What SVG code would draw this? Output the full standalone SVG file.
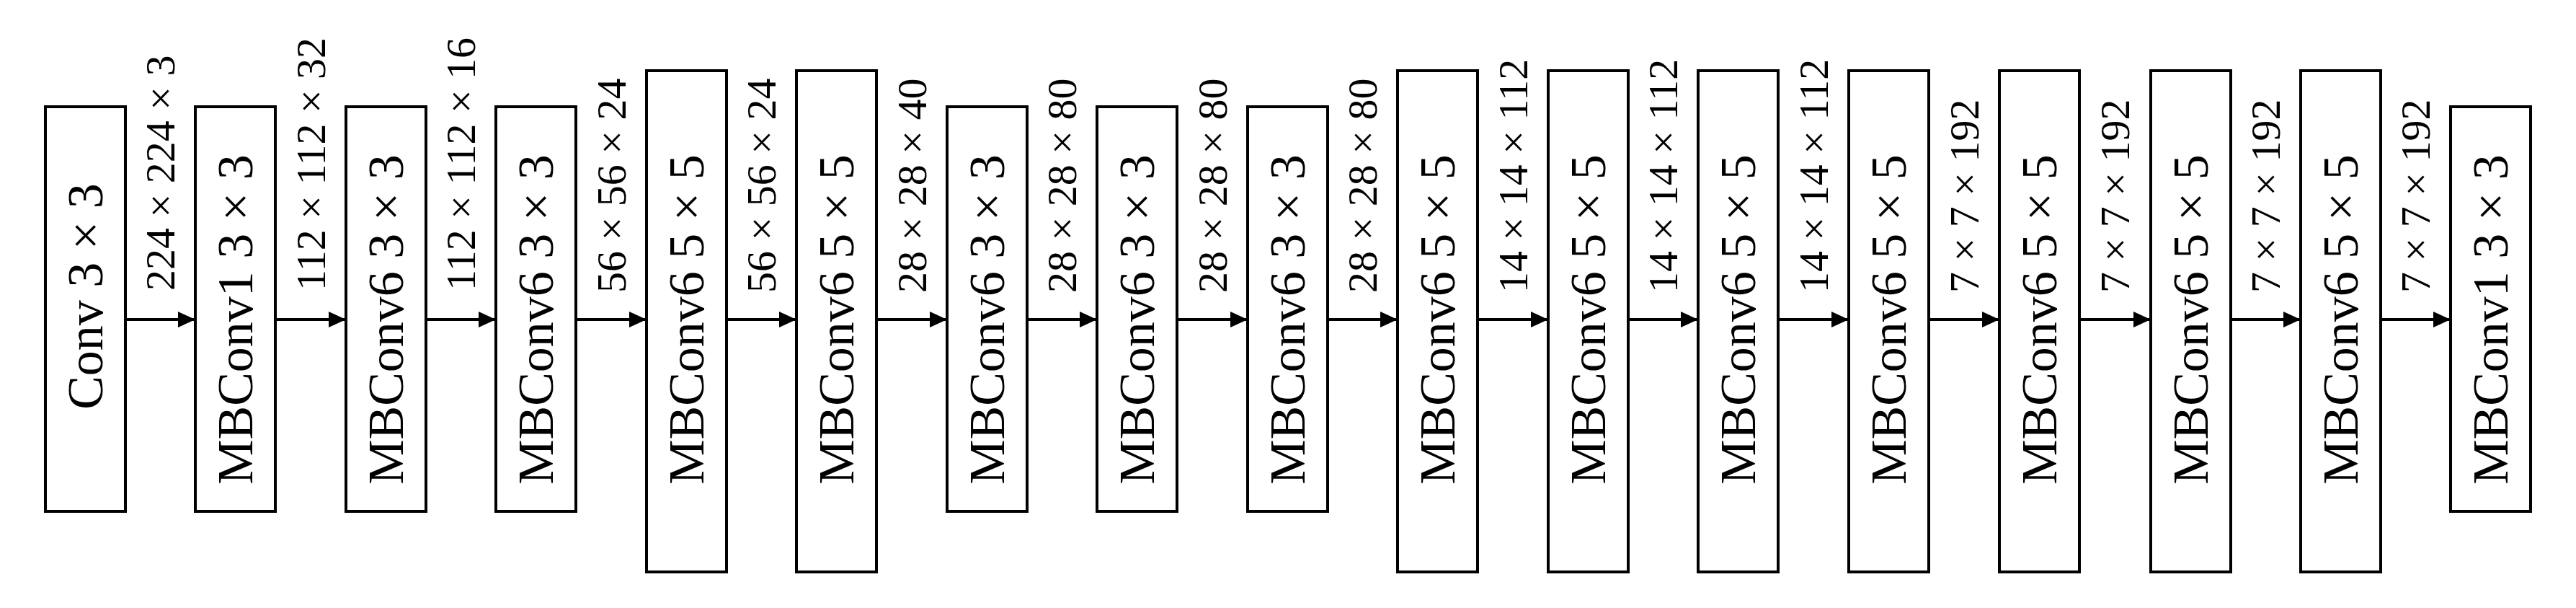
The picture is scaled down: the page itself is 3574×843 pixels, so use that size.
<svg xmlns="http://www.w3.org/2000/svg" width="3574" height="843" viewBox="0 0 3574 843">
<style>
.box{fill:#fff;stroke:#000;stroke-width:4}
.t{font-family:"Liberation Serif",serif;font-size:70px;text-anchor:middle;fill:#000}
.d{font-family:"Liberation Serif",serif;font-size:58px;text-anchor:start;fill:#000}
.c line{stroke:#000;stroke-width:4}
</style>
<defs><marker id="ah" markerUnits="userSpaceOnUse" markerWidth="24" markerHeight="22" refX="24" refY="11" orient="auto"><path d="M0,0 L24,11 L0,22 Z" fill="#000"/></marker></defs>
<rect width="3574" height="843" fill="#fff"/>
<g id="n1"><rect class="box" x="63" y="148" width="111" height="561"/><text class="t" transform="translate(142,411) rotate(-90)">Conv 3 × 3</text></g>
<g id="n2"><rect class="box" x="271" y="148" width="111" height="561"/><text class="t" transform="translate(350,443) rotate(-90)">MBConv1 3 × 3</text></g>
<g id="n3"><rect class="box" x="480" y="148" width="111" height="561"/><text class="t" transform="translate(559,443) rotate(-90)">MBConv6 3 × 3</text></g>
<g id="n4"><rect class="box" x="688" y="148" width="111" height="561"/><text class="t" transform="translate(767,443) rotate(-90)">MBConv6 3 × 3</text></g>
<g id="n5"><rect class="box" x="897" y="98" width="111" height="695"/><text class="t" transform="translate(976,443) rotate(-90)">MBConv6 5 × 5</text></g>
<g id="n6"><rect class="box" x="1105" y="98" width="111" height="695"/><text class="t" transform="translate(1184,443) rotate(-90)">MBConv6 5 × 5</text></g>
<g id="n7"><rect class="box" x="1314" y="148" width="111" height="561"/><text class="t" transform="translate(1393,443) rotate(-90)">MBConv6 3 × 3</text></g>
<g id="n8"><rect class="box" x="1522" y="148" width="111" height="561"/><text class="t" transform="translate(1601,443) rotate(-90)">MBConv6 3 × 3</text></g>
<g id="n9"><rect class="box" x="1731" y="148" width="111" height="561"/><text class="t" transform="translate(1810,443) rotate(-90)">MBConv6 3 × 3</text></g>
<g id="n10"><rect class="box" x="1939" y="98" width="111" height="695"/><text class="t" transform="translate(2018,443) rotate(-90)">MBConv6 5 × 5</text></g>
<g id="n11"><rect class="box" x="2148" y="98" width="111" height="695"/><text class="t" transform="translate(2227,443) rotate(-90)">MBConv6 5 × 5</text></g>
<g id="n12"><rect class="box" x="2356" y="98" width="111" height="695"/><text class="t" transform="translate(2435,443) rotate(-90)">MBConv6 5 × 5</text></g>
<g id="n13"><rect class="box" x="2565" y="98" width="111" height="695"/><text class="t" transform="translate(2644,443) rotate(-90)">MBConv6 5 × 5</text></g>
<g id="n14"><rect class="box" x="2774" y="98" width="111" height="695"/><text class="t" transform="translate(2853,443) rotate(-90)">MBConv6 5 × 5</text></g>
<g id="n15"><rect class="box" x="2984" y="98" width="111" height="695"/><text class="t" transform="translate(3063,443) rotate(-90)">MBConv6 5 × 5</text></g>
<g id="n16"><rect class="box" x="3192" y="98" width="111" height="695"/><text class="t" transform="translate(3271,443) rotate(-90)">MBConv6 5 × 5</text></g>
<g id="n17"><rect class="box" x="3400" y="148" width="111" height="561"/><text class="t" transform="translate(3479,443) rotate(-90)">MBConv1 3 × 3</text></g>
<g id="connectors" class="c">
<line x1="174" y1="443" x2="271" y2="443" marker-end="url(#ah)"/>
<line x1="382" y1="443" x2="480" y2="443" marker-end="url(#ah)"/>
<line x1="591" y1="443" x2="688" y2="443" marker-end="url(#ah)"/>
<line x1="799" y1="443" x2="897" y2="443" marker-end="url(#ah)"/>
<line x1="1008" y1="443" x2="1105" y2="443" marker-end="url(#ah)"/>
<line x1="1216" y1="443" x2="1314" y2="443" marker-end="url(#ah)"/>
<line x1="1425" y1="443" x2="1522" y2="443" marker-end="url(#ah)"/>
<line x1="1633" y1="443" x2="1731" y2="443" marker-end="url(#ah)"/>
<line x1="1842" y1="443" x2="1939" y2="443" marker-end="url(#ah)"/>
<line x1="2050" y1="443" x2="2148" y2="443" marker-end="url(#ah)"/>
<line x1="2259" y1="443" x2="2356" y2="443" marker-end="url(#ah)"/>
<line x1="2467" y1="443" x2="2565" y2="443" marker-end="url(#ah)"/>
<line x1="2676" y1="443" x2="2774" y2="443" marker-end="url(#ah)"/>
<line x1="2885" y1="443" x2="2984" y2="443" marker-end="url(#ah)"/>
<line x1="3095" y1="443" x2="3192" y2="443" marker-end="url(#ah)"/>
<line x1="3303" y1="443" x2="3400" y2="443" marker-end="url(#ah)"/>
<g class="labels">
<text class="d" transform="translate(242,403) rotate(-90)">224 × 224 × 3</text>
<text class="d" transform="translate(451,403) rotate(-90)">112 × 112 × 32</text>
<text class="d" transform="translate(659,403) rotate(-90)">112 × 112 × 16</text>
<text class="d" transform="translate(868,406) rotate(-90)">56 × 56 × 24</text>
<text class="d" transform="translate(1076,406) rotate(-90)">56 × 56 × 24</text>
<text class="d" transform="translate(1285,406) rotate(-90)">28 × 28 × 40</text>
<text class="d" transform="translate(1493,406) rotate(-90)">28 × 28 × 80</text>
<text class="d" transform="translate(1702,406) rotate(-90)">28 × 28 × 80</text>
<text class="d" transform="translate(1910,406) rotate(-90)">28 × 28 × 80</text>
<text class="d" transform="translate(2119,406) rotate(-90)">14 × 14 × 112</text>
<text class="d" transform="translate(2327,406) rotate(-90)">14 × 14 × 112</text>
<text class="d" transform="translate(2536,406) rotate(-90)">14 × 14 × 112</text>
<text class="d" transform="translate(2745,406) rotate(-90)">7 × 7 × 192</text>
<text class="d" transform="translate(2954,406) rotate(-90)">7 × 7 × 192</text>
<text class="d" transform="translate(3163,406) rotate(-90)">7 × 7 × 192</text>
<text class="d" transform="translate(3371,406) rotate(-90)">7 × 7 × 192</text>
</g>
</g>
</svg>
